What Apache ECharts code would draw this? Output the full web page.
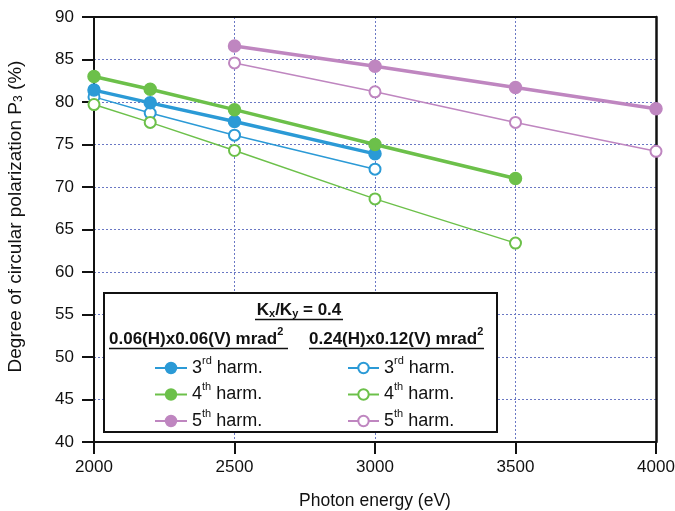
<!DOCTYPE html>
<html><head><meta charset="utf-8">
<script src="https://cdn.jsdelivr.net/npm/echarts@6/dist/echarts.min.js"></script>
<style>html,body{margin:0;padding:0;background:#fff}#c{width:675px;height:511px}</style>
</head><body><div id="c"></div>
<script>
// ---- data ----
const energyA3 = [2000, 2200, 2500, 3000];
const valueA3  = [81.4, 79.9, 77.7, 73.9];
const energyA4 = [2000, 2200, 2500, 3000, 3500];
const valueA4  = [83.0, 81.5, 79.1, 75.0, 71.0];
const energyA5 = [2500, 3000, 3500, 4000];
const valueA5  = [86.6, 84.2, 81.7, 79.2];
const energyB3 = [2000, 2200, 2500, 3000];
const valueB3  = [80.6, 78.7, 76.1, 72.1];
const energyB4 = [2000, 2200, 2500, 3000, 3500];
const valueB4  = [79.7, 77.6, 74.3, 68.6, 63.4];
const energyB5 = [2500, 3000, 3500, 4000];
const valueB5  = [84.6, 81.2, 77.6, 74.2];
const xTicks = [2000, 2500, 3000, 3500, 4000];
const yTicks = [40, 45, 50, 55, 60, 65, 70, 75, 80, 85, 90];

const BLUE = '#2b9ad6', GREEN = '#6cc04a', PURPLE = '#bf86c0';
const FONT = 'Liberation Sans';
const INK = '#111';

function pairs(xs, ys) { return xs.map((x, i) => [x, ys[i]]); }
function mk(name, xs, ys, color, filled) {
  return {
    name, type: 'line', data: pairs(xs, ys), clip: false,
    symbol: filled ? 'circle' : 'emptyCircle',
    symbolSize: filled ? 12 : 11,
    lineStyle: { color, width: filled ? 3.5 : 1.5 },
    itemStyle: { color, borderColor: color, borderWidth: 1.5 },
    z: filled ? 3 : 2
  };
}
const ordinal = { '3': 'rd', '4': 'th', '5': 'th' };
function legendFmt(name) {
  const n = name.slice(1);
  return '{n|' + n + '}{s|' + ordinal[n] + '}{n| harm.}';
}
const legendRich = {
  n: { fontFamily: FONT, fontSize: 18, color: INK, lineHeight: 22, verticalAlign: 'bottom' },
  s: { fontFamily: FONT, fontSize: 11, color: INK, lineHeight: 11, verticalAlign: 'top' }
};
const hidden = { show: false };

const chart = echarts.init(document.getElementById('c'), null, { renderer: 'canvas' });
chart.setOption({
  animation: false,
  backgroundColor: '#fff',
  grid: { left: 94, right: 19, top: 17, bottom: 69, show: false, containLabel: false, outerBoundsMode: 'none' },
  xAxis: [{
    type: 'value', min: 2000, max: 4000, interval: 500,
    name: 'Photon energy (eV)', nameLocation: 'middle', nameGap: 50,
    nameTextStyle: { fontFamily: FONT, fontSize: 17.5, color: INK },
    axisLine: { lineStyle: { color: INK, width: 2 } },
    axisTick: { show: true, length: 12, lineStyle: { color: INK, width: 2 } },
    axisLabel: { fontFamily: FONT, fontSize: 17, color: INK, margin: 17,
      formatter: v => xTicks.includes(v) ? String(v) : '' },
    splitLine: { show: true, lineStyle: { color: '#6a78c4', type: [2, 2], width: 1 } }
  }, {
    type: 'value', min: 2000, max: 4000, position: 'top',
    axisLine: { show: true, onZero: false, lineStyle: { color: INK, width: 2 } },
    axisTick: hidden, axisLabel: hidden, splitLine: hidden
  }],
  yAxis: [{
    type: 'value', min: 40, max: 90, interval: 5,
    name: 'Degree of circular polarization P{sub|3} (%)', nameLocation: 'middle', nameGap: 69,
    nameTextStyle: { fontFamily: FONT, fontSize: 19, color: INK, padding: [0, 0, 0, 26],
      rich: { sub: { fontFamily: FONT, fontSize: 12, color: INK, verticalAlign: 'bottom', padding: [7, 0, 0, 0] } } },
    axisLine: { show: true, lineStyle: { color: INK, width: 2 } },
    axisTick: { show: true, length: 12, lineStyle: { color: INK, width: 2 } },
    axisLabel: { fontFamily: FONT, fontSize: 17, color: INK, margin: 20,
      formatter: v => yTicks.includes(v) ? String(v) : '' },
    splitLine: { show: true, lineStyle: { color: '#6a78c4', type: [2, 2], width: 1 } }
  }, {
    type: 'value', min: 40, max: 90, position: 'right',
    axisLine: { show: true, onZero: false, lineStyle: { color: INK, width: 2.5 } },
    axisTick: hidden, axisLabel: hidden, splitLine: hidden
  }],
  legend: [
    { data: ['a3', 'a4', 'a5'], orient: 'vertical', left: 149, top: 350, itemWidth: 32, itemHeight: 13, itemGap: 4.5,
      formatter: legendFmt, textStyle: { rich: legendRich, padding: [0, 0, 4, 0] }, selectedMode: false, z: 6 },
    { data: ['b3', 'b4', 'b5'], orient: 'vertical', left: 342, top: 350, itemWidth: 31, itemHeight: 13, itemGap: 4.5,
      formatter: legendFmt, textStyle: { rich: legendRich, padding: [0, 0, 4, 0] }, selectedMode: false, z: 6 }
  ],
  graphic: [
    { type: 'rect', shape: { x: 104, y: 293, width: 393, height: 139 }, z: 5,
      style: { fill: '#fff', stroke: INK, lineWidth: 2 } },
    { type: 'text', x: 299, y: 310, z: 6,
      style: { text: '{b|K}{bs|x}{b|/K}{bs|y}{b| = 0.4}', align: 'center', verticalAlign: 'middle',
        rich: { b: { fontFamily: FONT, fontSize: 17, fontWeight: 'bold', fill: INK },
                bs: { fontFamily: FONT, fontSize: 11, fontWeight: 'bold', fill: INK, verticalAlign: 'bottom', padding: [7, 0, 0, 0] } } } },
    { type: 'line', shape: { x1: 255, y1: 319.5, x2: 343, y2: 319.5 }, z: 6, style: { stroke: INK, lineWidth: 1.5 } },
    { type: 'text', x: 109, y: 337, z: 6,
      style: { text: '{b|0.06(H)x0.06(V) mrad}{s|2}', align: 'left', verticalAlign: 'middle',
        rich: { b: { fontFamily: FONT, fontSize: 17, fontWeight: 'bold', fill: INK, lineHeight: 22, verticalAlign: 'bottom' },
                s: { fontFamily: FONT, fontSize: 11, fontWeight: 'bold', fill: INK, lineHeight: 11, verticalAlign: 'top' } } } },
    { type: 'line', shape: { x1: 109, y1: 348.5, x2: 288, y2: 348.5 }, z: 6, style: { stroke: INK, lineWidth: 1.5 } },
    { type: 'text', x: 309, y: 337, z: 6,
      style: { text: '{b|0.24(H)x0.12(V) mrad}{s|2}', align: 'left', verticalAlign: 'middle',
        rich: { b: { fontFamily: FONT, fontSize: 17, fontWeight: 'bold', fill: INK, lineHeight: 22, verticalAlign: 'bottom' },
                s: { fontFamily: FONT, fontSize: 11, fontWeight: 'bold', fill: INK, lineHeight: 11, verticalAlign: 'top' } } } },
    { type: 'line', shape: { x1: 309, y1: 348.5, x2: 484, y2: 348.5 }, z: 6, style: { stroke: INK, lineWidth: 1.5 } }
  ],
  series: [
    mk('b3', energyB3, valueB3, BLUE, false),
    mk('b4', energyB4, valueB4, GREEN, false),
    mk('b5', energyB5, valueB5, PURPLE, false),
    mk('a3', energyA3, valueA3, BLUE, true),
    mk('a4', energyA4, valueA4, GREEN, true),
    mk('a5', energyA5, valueA5, PURPLE, true)
  ]
});
</script></body></html>
